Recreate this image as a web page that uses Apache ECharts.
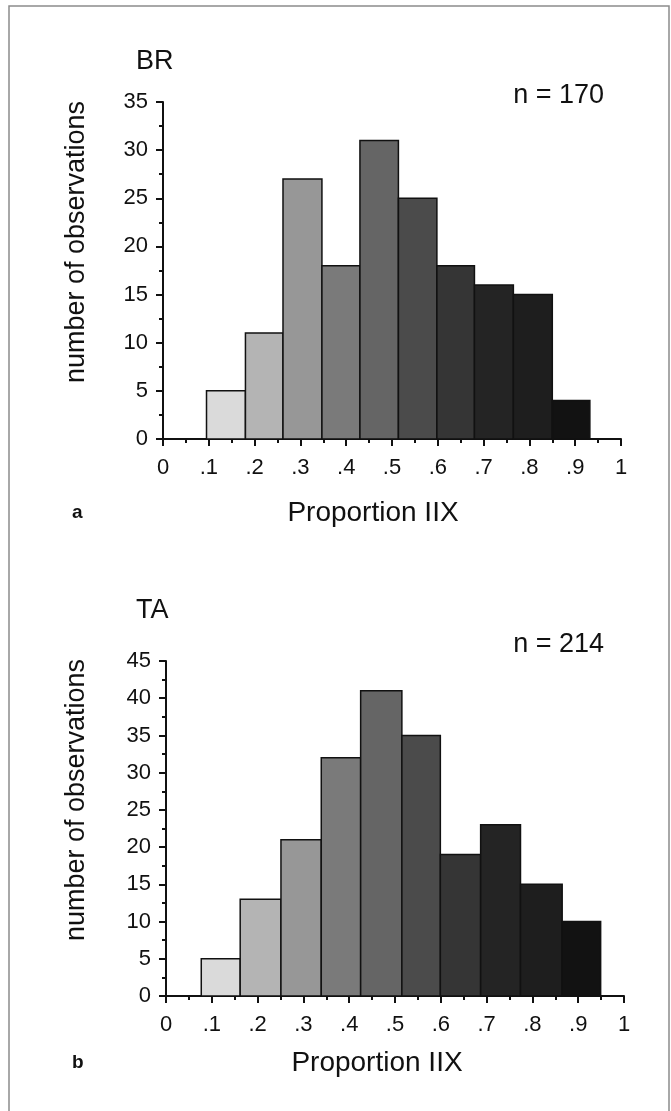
<!DOCTYPE html>
<html>
<head>
<meta charset="utf-8">
<script src="https://cdn.jsdelivr.net/npm/echarts@6.0.0/dist/echarts.min.js"></script>
<style>
  html, body { margin: 0; padding: 0; background: #fff; }
  #main { width: 671px; height: 1111px; }
</style>
</head>
<body>
<div id="main"></div>
<script>
// histogram bins: edges on the proportion axis, counts per bin
var brEdges  = [0.095, 0.180, 0.262, 0.347, 0.430, 0.514, 0.598, 0.680, 0.765, 0.850, 0.932];
var brCounts = [5, 11, 27, 18, 31, 25, 18, 16, 15, 4];
var taEdges  = [0.077, 0.162, 0.251, 0.339, 0.425, 0.515, 0.599, 0.687, 0.774, 0.865, 0.949];
var taCounts = [5, 13, 21, 32, 41, 35, 19, 23, 15, 10];

var xTickLabels = ['0', '.1', '.2', '.3', '.4', '.5', '.6', '.7', '.8', '.9', '1'];
var brYTicks = ['0', '5', '10', '15', '20', '25', '30', '35'];
var taYTicks = ['0', '5', '10', '15', '20', '25', '30', '35', '40', '45'];

var binShades = ['#dadada', '#b4b4b4', '#979797', '#7a7a7a', '#656565',
                 '#4b4b4b', '#353535', '#242424', '#1e1e1e', '#121212'];

function toBins(edges, counts) {
    var out = [];
    for (var i = 0; i < counts.length; i++) {
        out.push([edges[i], edges[i + 1], counts[i]]);
    }
    return out;
}

var ink = '#111';
var font = '"Liberation Sans", Arial, sans-serif';

function xAxisFor(idx) {
    return {
        gridIndex: idx, type: 'value', min: 0, max: 1, interval: 0.1,
        axisLine: { show: true, lineStyle: { color: ink, width: 2 } },
        axisTick: { show: true, length: 7, lineStyle: { color: ink, width: 2 } },
        minorTick: { show: true, splitNumber: 2, length: 4, lineStyle: { color: ink, width: 2 } },
        splitLine: { show: false },
        axisLabel: {
            color: ink, fontSize: 22, fontFamily: font, margin: 18,
            formatter: function (v, i) { return xTickLabels[i]; }
        }
    };
}

function yAxisFor(idx, max, labels) {
    return {
        gridIndex: idx, type: 'value', min: 0, max: max, interval: 5,
        axisLine: { show: true, lineStyle: { color: ink, width: 2 } },
        axisTick: { show: true, length: 7, lineStyle: { color: ink, width: 2 } },
        minorTick: { show: true, splitNumber: 2, length: 4, lineStyle: { color: ink, width: 2 } },
        splitLine: { show: false },
        axisLabel: {
            color: ink, fontSize: 22, fontFamily: font, margin: 15,
            formatter: function (v, i) { return labels[i]; }
        }
    };
}

function renderBin(params, api) {
    var topLeft = api.coord([api.value(0), api.value(2)]);
    var bottomRight = api.coord([api.value(1), 0]);
    return {
        type: 'rect',
        shape: {
            x: topLeft[0], y: topLeft[1],
            width: bottomRight[0] - topLeft[0],
            height: bottomRight[1] - topLeft[1]
        },
        style: { fill: binShades[params.dataIndex], stroke: ink, lineWidth: 1.5 }
    };
}

function label(text, x, y, size, opts) {
    opts = opts || {};
    return {
        type: 'text', x: x, y: y, rotation: opts.rotation || 0,
        style: {
            text: text, fill: ink, font: (opts.weight || 'normal') + ' ' + size + 'px ' + font,
            textAlign: opts.align || 'left', textVerticalAlign: opts.vAlign || 'middle'
        }
    };
}

var myChart = echarts.init(document.getElementById('main'));
var option = {
    backgroundColor: '#fff',
    animation: false,
    grid: [
        { left: 163, top: 102, width: 458, height: 337 },
        { left: 166, top: 661, width: 458, height: 335 }
    ],
    xAxis: [xAxisFor(0), xAxisFor(1)],
    yAxis: [yAxisFor(0, 35, brYTicks), yAxisFor(1, 45, taYTicks)],
    series: [
        {
            type: 'custom', xAxisIndex: 0, yAxisIndex: 0,
            encode: { x: [0, 1], y: 2 },
            renderItem: renderBin,
            data: toBins(brEdges, brCounts)
        },
        {
            type: 'custom', xAxisIndex: 1, yAxisIndex: 1,
            encode: { x: [0, 1], y: 2 },
            renderItem: renderBin,
            data: toBins(taEdges, taCounts)
        }
    ],
    graphic: [
        // frame round the figure
        {
            type: 'rect', shape: { x: 9, y: 6, width: 660, height: 1130 },
            style: { fill: 'none', stroke: '#8c8c8c', lineWidth: 1.5 }
        },
        label('BR', 136, 62, 27),
        label('n = 170', 604, 96, 27, { align: 'right' }),
        label('number of observations', 77, 242, 27, { rotation: Math.PI / 2, align: 'center' }),
        label('Proportion IIX', 373, 513, 28, { align: 'center' }),
        label('a', 72, 522, 19, { weight: 'bold', vAlign: 'bottom' }),

        label('TA', 136, 611, 27),
        label('n = 214', 604, 645, 27, { align: 'right' }),
        label('number of observations', 77, 800, 27, { rotation: Math.PI / 2, align: 'center' }),
        label('Proportion IIX', 377, 1063, 28, { align: 'center' }),
        label('b', 72, 1072, 19, { weight: 'bold', vAlign: 'bottom' })
    ]
};
myChart.setOption(option, true);
</script>
</body>
</html>
